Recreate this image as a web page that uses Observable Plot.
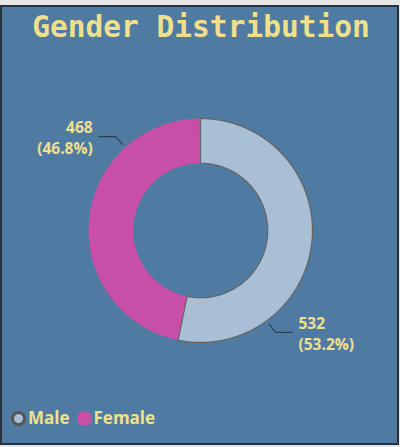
<!DOCTYPE html>
<html><head><meta charset="utf-8">
<script src="https://cdn.jsdelivr.net/npm/d3@7"></script>
<script src="https://cdn.jsdelivr.net/npm/@observablehq/plot@0.6"></script>
<style>
html,body{margin:0;padding:0;width:400px;height:447px;overflow:hidden;background:#e6e6e6;position:relative;}
#panel{position:absolute;left:0;top:5px;width:399px;height:440px;box-sizing:border-box;border:2px solid #26313d;background:#4f7ba3;}
#title{position:absolute;left:0;top:13px;width:402px;text-align:center;font:bold 29.5px/29.5px "DejaVu Sans Mono",monospace;color:#f0e08c;white-space:nowrap;}
#chart{position:absolute;left:0;top:0;}
#legend{position:absolute;left:11px;top:407px;display:flex;align-items:center;font:bold 17px/22px "Open Sans",sans-serif;color:#f0e08c;}
#legend .sw{display:inline-block;border-radius:50%;box-sizing:border-box;margin-right:2px;}
#legend .item{display:flex;align-items:center;margin-right:7px;}
</style>
</head><body>
<div id="panel"></div>
<div id="title">Gender Distribution</div>
<div id="chart"></div>
<div id="legend"></div>
<script>
const genders = ["Male", "Female"];
const counts = [532, 468];
const sliceColors = ["#a9bfd6", "#c84fa8"];
const sliceStrokes = ["#666666", "none"];

const cx = 200, cy = 230, R = 112, innerRatio = 0.6;
const total = d3.sum(counts);
const data = genders.map((g, i) => ({gender: g, count: counts[i], pct: counts[i] / total, i}));
const arcs = d3.pie().sort(null).value(d => d.count)(data);

const pt = (a, r) => ({x: r * Math.sin(a), y: r * Math.cos(a)});

function slicePoly(a) {
  const pts = [];
  const n = Math.max(4, Math.ceil((a.endAngle - a.startAngle) / 0.01));
  for (let k = 0; k <= n; k++) pts.push(pt(a.startAngle + (a.endAngle - a.startAngle) * k / n, 1));
  for (let k = n; k >= 0; k--) pts.push(pt(a.startAngle + (a.endAngle - a.startAngle) * k / n, innerRatio));
  pts.push(pts[0]);
  return pts;
}

// label anchors
const labels = arcs.map(a => {
  const ang = a.startAngle + 0.75 * (a.endAngle - a.startAngle);
  const side = Math.sin(ang) >= 0 ? 1 : -1;
  const p0 = pt(ang, 1.035), p1 = pt(ang, 1.13);
  const p2 = {x: p1.x + side * 0.15, y: p1.y};
  return {
    gender: a.data.gender, side,
    line: [p0, p1, p2],
    tx: p2.x + side * 0.055, ty: p2.y,
    text: `${a.data.count}\n(${(a.data.pct * 100).toFixed(1)}%)`
  };
});

const order = [1, 0];
const marks = [];
order.forEach(i => {
  marks.push(Plot.line(slicePoly(arcs[i]), {x: "x", y: "y", fill: sliceColors[i], stroke: sliceStrokes[i], strokeWidth: 1.3, curve: "linear"}));
});
labels.forEach(l => {
  marks.push(Plot.line(l.line, {x: "x", y: "y", stroke: "#2c3e52", strokeWidth: 1.1}));
  marks.push(Plot.text([l], {x: "tx", y: "ty", text: "text", textAnchor: l.side > 0 ? "start" : "end", lineAnchor: "middle", lineHeight: 1.38, fill: "#f0e08c", fontSize: 15.5, fontWeight: "bold", fontFamily: "'Open Sans', sans-serif"}));
});

const chart = Plot.plot({
  width: 400, height: 447, margin: 0,
  x: {domain: [-1, 1], range: [cx - R, cx + R], axis: null},
  y: {domain: [-1, 1], range: [cy + R, cy - R], axis: null},
  style: {background: "transparent", overflow: "visible"},
  marks
});
document.getElementById("chart").appendChild(chart);

const legend = document.getElementById("legend");
genders.forEach((g, i) => {
  const item = document.createElement("div");
  item.className = "item";
  const sw = document.createElement("span");
  sw.className = "sw";
  sw.style.width = "15px"; sw.style.height = "15px";
  sw.style.background = sliceColors[i];
  if (sliceStrokes[i] !== "none") sw.style.border = "3px solid #555";
  const t = document.createElement("span");
  t.textContent = g;
  item.appendChild(sw); item.appendChild(t);
  legend.appendChild(item);
});
</script>
</body></html>
